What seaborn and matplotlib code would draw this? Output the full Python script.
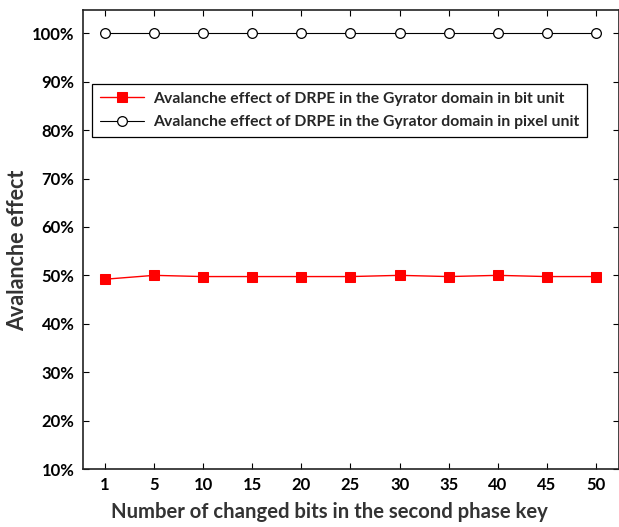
import numpy as np
import pandas as pd
import matplotlib
matplotlib.use("Agg")
import matplotlib.pyplot as plt
import seaborn as sns

# Number of changed bits in the second phase key
changed_bits = ["1", "5", "10", "15", "20", "25", "30", "35", "40", "45", "50"]
# Avalanche effect (%) in bit unit and in pixel unit
bit_unit = [49.2, 50.0, 49.75, 49.75, 49.75, 49.75, 50.0, 49.75, 50.0, 49.75, 49.75]
pixel_unit = [100, 100, 100, 100, 100, 100, 100, 100, 100, 100, 100]
y_ticks = [10, 20, 30, 40, 50, 60, 70, 80, 90, 100]

sns.set_theme(style="ticks")
plt.rcParams["font.family"] = ["Lato", "DejaVu Sans"]
plt.rcParams["font.weight"] = "bold"

df = pd.DataFrame({
    "pos": np.arange(len(changed_bits)),
    "bit": bit_unit,
    "pixel": pixel_unit,
})

fig = plt.figure(figsize=(6.19, 5.27), dpi=100)
ax = fig.add_axes([0.134, 0.110, 0.866, 0.871])

sns.lineplot(data=df, x="pos", y="bit", ax=ax, color="#ff0000", linewidth=1.0,
             marker="s", markersize=7.5, markeredgecolor="#ff0000",
             markerfacecolor="#ff0000",
             label="Avalanche effect of DRPE in the Gyrator domain in bit unit")
sns.lineplot(data=df, x="pos", y="pixel", ax=ax, color="black", linewidth=0.8,
             marker="o", markersize=7, markeredgecolor="black",
             markerfacecolor="white", markeredgewidth=0.9,
             label="Avalanche effect of DRPE in the Gyrator domain in pixel unit")

ax.set_xlim(-0.45, 10.47)
ax.set_ylim(10, 104.8)
ax.set_xticks(df["pos"])
ax.set_xticklabels(changed_bits)
ax.set_yticks(y_ticks)
ax.set_yticklabels([f"{v}%" for v in y_ticks])

ax.tick_params(axis="both", direction="in", length=4, width=0.8,
               top=True, right=True, labelsize=12, colors="black", pad=6)
for lab in ax.get_xticklabels() + ax.get_yticklabels():
    lab.set_fontweight("bold")
for sp in ax.spines.values():
    sp.set_linewidth(1.2)
    sp.set_color("#222222")

ax.set_xlabel("Number of changed bits in the second phase key",
              fontsize=14.6, fontweight="bold", color="#333333", labelpad=3)
ax.xaxis.set_label_coords(0.46, -0.072)
ax.set_ylabel("Avalanche effect", fontsize=15.5, fontweight="bold",
              color="#333333")
ax.yaxis.set_label_coords(-0.102, 0.477)

leg = ax.legend(loc="upper left", bbox_to_anchor=(0.017, 0.839),
                borderaxespad=0,
                frameon=True, fancybox=False, framealpha=1, edgecolor="black",
                handlelength=2.8, borderpad=0.5, labelspacing=0.6,
                handletextpad=0.6,
                prop={"size": 11.3, "weight": "bold"})
leg.get_frame().set_linewidth(0.9)

fig.savefig("out.png", dpi=100)
